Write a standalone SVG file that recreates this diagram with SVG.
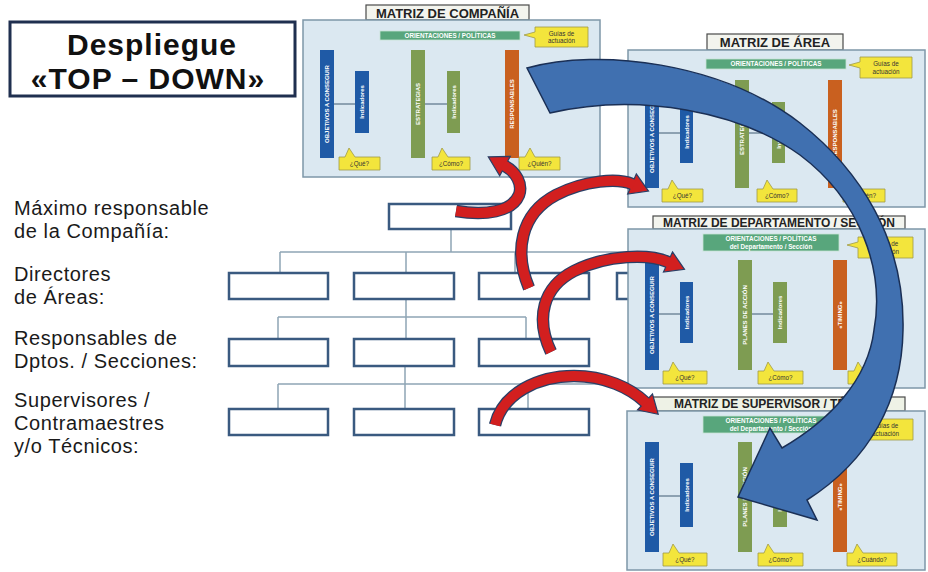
<svg xmlns="http://www.w3.org/2000/svg" width="928" height="572" viewBox="0 0 928 572">
<style>
text{font-family:"Liberation Sans",Arial,sans-serif}
.lbl{font-size:20px;letter-spacing:0.6px;fill:#1a1a1a}
.ttlbig{font-size:30px;letter-spacing:1px;font-weight:bold;fill:#111;text-anchor:middle}
.box{fill:#fff;stroke:#3a5a80;stroke-width:2.5}
.oc{fill:none;stroke:#8fa5b5;stroke-width:1.5}
.tbox{fill:#f3f4ee;stroke:#4a4a4a;stroke-width:1.2}
.ttl{font-size:13px;font-weight:bold;fill:#222;text-anchor:middle}
.ttl2{font-size:12px;font-weight:bold;fill:#222;text-anchor:middle}
.panel{fill:#dbe8f1;stroke:#7e97a8;stroke-width:1.5}
.ori{fill:#58a67c;stroke:#c9e3d4;stroke-width:0.8}
.orit{font-size:6.3px;font-weight:bold;fill:#fff;text-anchor:middle}
.call{fill:#f3e53c;stroke:#a09a48;stroke-width:0.8}
.ct{font-size:6.3px;fill:#333;text-anchor:middle}
.ln{stroke:#3e5a72;stroke-width:1}
.bl{fill:#1f5aa6}
.gr{fill:#7e9c52}
.or{fill:#c9601f}
.bt{font-size:6px;font-weight:bold;fill:#fff;text-anchor:middle}
.rbo{fill:none;stroke:#2a3f66;stroke-width:12.5;stroke-linecap:butt}
.rbi{fill:none;stroke:#d21f1f;stroke-width:10;stroke-linecap:butt}
.rh{fill:#d21f1f;stroke:#2a3f66;stroke-width:1.2}
.ba{fill:#4070b0;stroke:#1a2f55;stroke-width:1.5;stroke-linejoin:miter}
</style>

<g id="titulo">
<rect x="10" y="22" width="285" height="74" fill="#fff" stroke="#1f2f4f" stroke-width="3"/>
<text class="ttlbig" x="152" y="55">Despliegue</text>
<text class="ttlbig" x="148" y="89">«TOP – DOWN»</text>
</g>

<g id="niveles">
<text class="lbl" x="14" y="215">Máximo responsable</text>
<text class="lbl" x="14" y="238">de la Compañía:</text>
<text class="lbl" x="14" y="281">Directores</text>
<text class="lbl" x="14" y="304">de Áreas:</text>
<text class="lbl" x="14" y="345">Responsables de</text>
<text class="lbl" x="14" y="368">Dptos. / Secciones:</text>
<text class="lbl" x="14" y="407">Supervisores /</text>
<text class="lbl" x="14" y="430">Contramaestres</text>
<text class="lbl" x="14" y="453">y/o Técnicos:</text>
</g>

<g id="organigrama-lineas">
<path class="oc" d="M451,229 V252 M280,252 H640 M280,252 V273 M406,252 V273 M515,252 V273 M672,252 V273"/>
<path class="oc" d="M406,299 V317 M278,317 H526 M278,317 V339 M406,317 V339 M526,317 V339"/>
<path class="oc" d="M405,366 V384 M278,384 H640 M278,384 V409 M405,384 V409 M528,384 V409"/>
</g>
<g id="org-maximo"><rect class="box" x="389" y="204" width="122" height="25"/></g>
<g id="org-dir-1"><rect class="box" x="229" y="273" width="99" height="26"/></g>
<g id="org-dir-2"><rect class="box" x="354" y="273" width="100" height="26"/></g>
<g id="org-dir-3"><rect class="box" x="479" y="273" width="110" height="26"/></g>
<g id="org-dir-4"><rect class="box" x="617" y="273" width="100" height="26"/></g>
<g id="org-dpto-1"><rect class="box" x="229" y="339" width="99" height="27"/></g>
<g id="org-dpto-2"><rect class="box" x="354" y="339" width="100" height="27"/></g>
<g id="org-dpto-3"><rect class="box" x="479" y="339" width="110" height="27"/></g>
<g id="org-sup-1"><rect class="box" x="229" y="409" width="99" height="26"/></g>
<g id="org-sup-2"><rect class="box" x="354" y="409" width="100" height="26"/></g>
<g id="org-sup-3"><rect class="box" x="479" y="409" width="110" height="26"/></g>

<g id="matriz-compania" transform="translate(303,20)">
<rect class="tbox" x="63" y="-15" width="163" height="15"/>
<text class="ttl" x="144.5" y="-2.5">MATRIZ DE COMPAÑÍA</text>
<rect class="panel" width="297" height="157"/>
<rect class="ori" x="77" y="11" width="140" height="9"/>
<text class="orit" x="147" y="17.8">ORIENTACIONES / POLÍTICAS</text>
<path class="call" d="M232,7 H285 V27 H232 V18 L221,15 L232,12 Z"/>
<text class="ct" x="258.5" y="15.5">Guías de</text>
<text class="ct" x="258.5" y="23">actuación</text>
<line class="ln" x1="31" y1="84" x2="52" y2="84"/>
<line class="ln" x1="122" y1="84" x2="144" y2="84"/>
<rect class="bl" x="17" y="30" width="14" height="108"/>
<text class="bt" transform="translate(24,84) rotate(-90)" y="2.2">OBJETIVOS A CONSEGUIR</text>
<rect class="bl" x="52" y="51" width="14" height="62"/>
<text class="bt" transform="translate(59,82) rotate(-90)" y="2.2">Indicadores</text>
<rect class="gr" x="108" y="30" width="14" height="108"/>
<text class="bt" transform="translate(115,84) rotate(-90)" y="2.2">ESTRATEGIAS</text>
<rect class="gr" x="144" y="51" width="13" height="62"/>
<text class="bt" transform="translate(150.5,82) rotate(-90)" y="2.2">Indicadores</text>
<rect class="or" x="202" y="30" width="14" height="108"/>
<text class="bt" transform="translate(209,84) rotate(-90)" y="2.2">RESPONSABLES</text>
<path class="call" d="M36,137 H42 L46,128 L52,137 H77 V150 H36 Z"/>
<text class="ct" x="56.5" y="146">¿Qué?</text>
<path class="call" d="M129,137 H135 L139,128 L145,137 H167 V150 H129 Z"/>
<text class="ct" x="148" y="146">¿Cómo?</text>
<path class="call" d="M216,137 H222 L227,128 L232,137 H257 V150 H216 Z"/>
<text class="ct" x="236.5" y="146">¿Quién?</text>
</g>

<g id="matriz-area" transform="translate(628,50)">
<rect class="tbox" x="79" y="-16" width="136" height="16"/>
<text class="ttl" x="147" y="-3">MATRIZ DE ÁREA</text>
<rect class="panel" width="297" height="157"/>
<rect class="ori" x="78" y="9" width="140" height="10"/>
<text class="orit" x="148" y="16.3">ORIENTACIONES / POLÍTICAS</text>
<path class="call" d="M232,7 H284 V28 H232 V18 L221,15 L232,12 Z"/>
<text class="ct" x="258" y="15.5">Guías de</text>
<text class="ct" x="258" y="23.5">actuación</text>
<line class="ln" x1="31" y1="83" x2="52" y2="83"/>
<line class="ln" x1="121" y1="83" x2="144" y2="83"/>
<rect class="bl" x="17" y="30" width="14" height="108"/>
<text class="bt" transform="translate(24,84) rotate(-90)" y="2.2">OBJETIVOS A CONSEGUIR</text>
<rect class="bl" x="52" y="52" width="13" height="61"/>
<text class="bt" transform="translate(58.5,82) rotate(-90)" y="2.2">Indicadores</text>
<rect class="gr" x="107" y="30" width="14" height="108"/>
<text class="bt" transform="translate(114,84) rotate(-90)" y="2.2">ESTRATEGIAS</text>
<rect class="gr" x="144" y="52" width="13" height="61"/>
<text class="bt" transform="translate(150.5,82) rotate(-90)" y="2.2">Indicadores</text>
<rect class="or" x="200" y="30" width="14" height="108"/>
<text class="bt" transform="translate(207,84) rotate(-90)" y="2.2">RESPONSABLES</text>
<path class="call" d="M34,139 H40 L44,130 L50,139 H75 V152 H34 Z"/>
<text class="ct" x="54.5" y="148">¿Qué?</text>
<path class="call" d="M129,139 H135 L139,130 L145,139 H169 V152 H129 Z"/>
<text class="ct" x="149" y="148">¿Cómo?</text>
<path class="call" d="M215,139 H221 L226,130 L231,139 H257 V152 H215 Z"/>
<text class="ct" x="236" y="148">¿Quién?</text>
</g>

<g id="matriz-departamento" transform="translate(628,229)">
<rect class="tbox" x="25" y="-13" width="252" height="13"/>
<text class="ttl2" x="151" y="-2.3">MATRIZ DE DEPARTAMENTO / SECCIÓN</text>
<rect class="panel" width="297" height="159"/>
<rect class="ori" x="75" y="5" width="136" height="17"/>
<text class="orit" x="143" y="12">ORIENTACIONES / POLÍTICAS</text>
<text class="orit" x="143" y="19.5">del Departamento / Sección</text>
<path class="call" d="M230,8 H285 V29 H230 V19 L219,16 L230,13 Z"/>
<text class="ct" x="257.5" y="17">Guías de</text>
<text class="ct" x="257.5" y="25">actuación</text>
<line class="ln" x1="31" y1="85" x2="52" y2="85"/>
<line class="ln" x1="124" y1="85" x2="145" y2="85"/>
<rect class="bl" x="17" y="31" width="14" height="110"/>
<text class="bt" transform="translate(24,86) rotate(-90)" y="2.2">OBJETIVOS A CONSEGUIR</text>
<rect class="bl" x="52" y="53" width="13" height="61"/>
<text class="bt" transform="translate(58.5,83.5) rotate(-90)" y="2.2">Indicadores</text>
<rect class="gr" x="110" y="31" width="14" height="110"/>
<text class="bt" transform="translate(117,86) rotate(-90)" y="2.2">PLANES DE ACCIÓN</text>
<rect class="gr" x="145" y="53" width="14" height="61"/>
<text class="bt" transform="translate(152,83.5) rotate(-90)" y="2.2">Indicadores</text>
<rect class="or" x="205" y="31" width="14" height="110"/>
<text class="bt" transform="translate(212,86) rotate(-90)" y="2.2">«TIMING»</text>
<path class="call" d="M35,142 H41 L45,133 L51,142 H79 V155 H35 Z"/>
<text class="ct" x="57" y="151">¿Qué?</text>
<path class="call" d="M130,142 H136 L140,133 L146,142 H175 V155 H130 Z"/>
<text class="ct" x="152.5" y="151">¿Cómo?</text>
<path class="call" d="M220,142 H226 L230,133 L236,142 H266 V155 H220 Z"/>
<text class="ct" x="243" y="151">¿Cuándo?</text>
</g>

<g id="matriz-supervisor" transform="translate(627,411)">
<rect class="tbox" x="26" y="-14" width="252" height="14" style="fill:#eef2e6"/>
<text class="ttl2" x="152" y="-2.8">MATRIZ DE SUPERVISOR / TÉCNICO</text>
<rect class="panel" width="298" height="159"/>
<rect class="ori" x="76" y="5" width="136" height="17"/>
<text class="orit" x="144" y="12">ORIENTACIONES / POLÍTICAS</text>
<text class="orit" x="144" y="19.5">del Departamento / Sección</text>
<path class="call" d="M231,8 H286 V29 H231 V19 L220,16 L231,13 Z"/>
<text class="ct" x="258.5" y="17">Guías de</text>
<text class="ct" x="258.5" y="25">actuación</text>
<line class="ln" x1="32" y1="85" x2="53" y2="85"/>
<line class="ln" x1="125" y1="85" x2="146" y2="85"/>
<rect class="bl" x="18" y="31" width="14" height="110"/>
<text class="bt" transform="translate(25,86) rotate(-90)" y="2.2">OBJETIVOS A CONSEGUIR</text>
<rect class="bl" x="53" y="52" width="13" height="64"/>
<text class="bt" transform="translate(59.5,84) rotate(-90)" y="2.2">Indicadores</text>
<rect class="gr" x="111" y="31" width="14" height="110"/>
<text class="bt" transform="translate(118,86) rotate(-90)" y="2.2">PLANES DE ACCIÓN</text>
<rect class="gr" x="146" y="52" width="14" height="64"/>
<text class="bt" transform="translate(153,84) rotate(-90)" y="2.2">Indicadores</text>
<rect class="or" x="206" y="31" width="14" height="110"/>
<text class="bt" transform="translate(213,86) rotate(-90)" y="2.2">«TIMING»</text>
<path class="call" d="M36,142 H42 L46,133 L52,142 H80 V155 H36 Z"/>
<text class="ct" x="58" y="151">¿Qué?</text>
<path class="call" d="M131,142 H137 L141,133 L147,142 H176 V155 H131 Z"/>
<text class="ct" x="153.5" y="151">¿Cómo?</text>
<path class="call" d="M220,142 H226 L230,133 L236,142 H270 V155 H220 Z"/>
<text class="ct" x="245" y="151">¿Cuándo?</text>
</g>

<g id="conectores">
<g id="flecha-roja-1">
<path class="rbo" d="M456,211 C485,216 512,212 519,195 C523,184 516,172 505,166"/>
<polygon class="rh" points="510.3,156.3 488.3,156.9 499.7,175.7"/>
<path class="rbi" d="M456,211 C485,216 512,212 519,195 C523,184 516,172 505,166 L503,165"/>
</g>
<g id="flecha-roja-2">
<path class="rbo" d="M529,288 C514,252 520,214 556,195 C585,180 618,178 632,184"/>
<polygon class="rh" points="636.3,173.9 648.5,191.1 627.7,194.1"/>
<path class="rbi" d="M529,288 C514,252 520,214 556,195 C585,180 618,178 632,184 L634,185"/>
</g>
<g id="flecha-roja-3">
<path class="rbo" d="M551,352 C535,318 543,287 574,271 C608,254 650,254 668,262"/>
<polygon class="rh" points="672.5,251.9 684.5,269.3 663.5,272.1"/>
<path class="rbi" d="M551,352 C535,318 543,287 574,271 C608,254 650,254 668,262 L670,263"/>
</g>
<g id="flecha-roja-4">
<path class="rbo" d="M495,425 C503,393 538,376 574,376 C605,376 630,388 645,402"/>
<polygon class="rh" points="652.5,394 658.2,414.3 637.5,410"/>
<path class="rbi" d="M495,425 C503,393 538,376 574,376 C605,376 630,388 645,402 L646.5,403.4"/>
</g>
<g id="flecha-azul">
<path class="ba" d="M527,68 C600,48 720,62 800,123 C860,170 905,240 903,330 C902,400 870,460 807,500 L817,520 L738,497 L770,428 L782,448 C830,420 868,380 874,330 C885,270 860,200 800,155 C740,112 640,92 550,113 Z"/>
</g>
</g>
</svg>
